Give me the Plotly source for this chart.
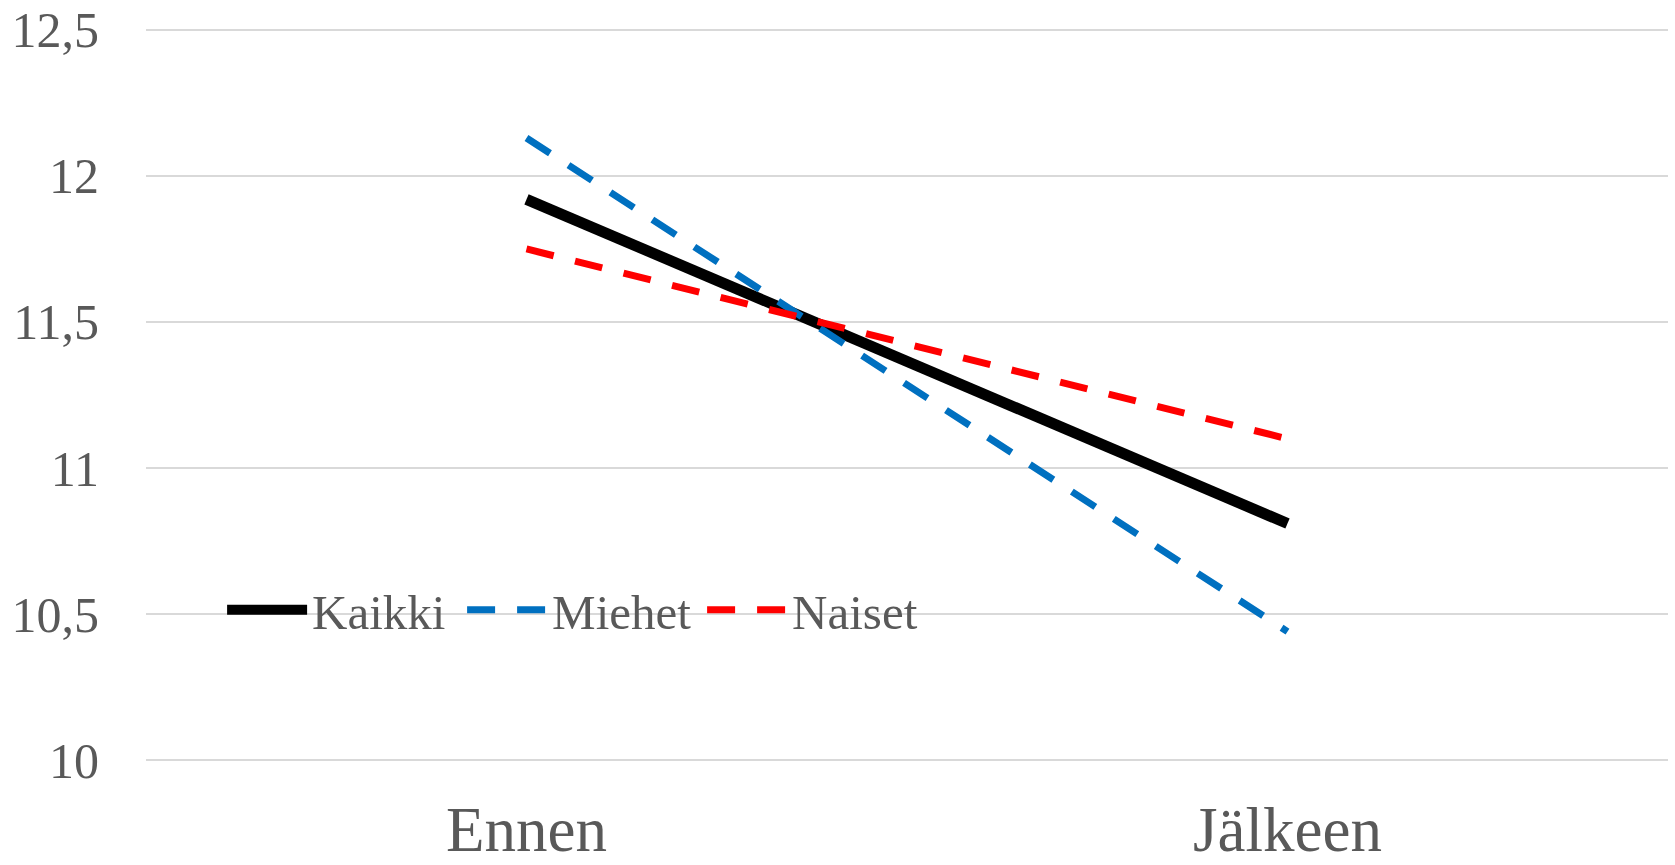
import plotly.graph_objects as go

categories = ["Ennen", "Jälkeen"]
kaikki = [11.92, 10.81]
miehet = [12.13, 10.44]
naiset = [11.75, 11.10]
y_ticks = [10, 10.5, 11, 11.5, 12, 12.5]
y_tick_labels = ["10", "10,5", "11", "11,5", "12", "12,5"]

FONT = "Liberation Serif"
GREY = "#595959"

fig = go.Figure()
fig.add_trace(go.Scatter(x=categories, y=kaikki, name="Kaikki", mode="lines",
                         line=dict(color="#000000", width=11)))
fig.add_trace(go.Scatter(x=categories, y=miehet, name="Miehet", mode="lines",
                         line=dict(color="#0070C0", width=7, dash="28px,22px")))
fig.add_trace(go.Scatter(x=categories, y=naiset, name="Naiset", mode="lines",
                         line=dict(color="#FF0000", width=7, dash="28px,22px")))

fig.update_layout(
    width=1675, height=865,
    margin=dict(l=146, r=7, t=27, b=102, autoexpand=False),
    paper_bgcolor="white", plot_bgcolor="white",
    font=dict(family=FONT, color=GREY),
    showlegend=True,
    legend=dict(orientation="h", x=0.05, y=0.208, xanchor="left", yanchor="middle",
                font=dict(family=FONT, size=49, color=GREY),
                bgcolor="rgba(0,0,0,0)", itemwidth=80, tracegroupgap=0,
                entrywidth=145, entrywidthmode="pixels"),
    xaxis=dict(type="category", range=[-0.5, 1.5], showgrid=False, zeroline=False,
               showline=False, tickfont=dict(family=FONT, size=63, color=GREY),
               ticks="", ticklabelstandoff=24, automargin=False),
    yaxis=dict(range=[9.99, 12.51], tickvals=y_ticks, ticktext=y_tick_labels,
               showgrid=True, gridcolor="#D9D9D9", gridwidth=2, zeroline=False,
               showline=False, tickfont=dict(family=FONT, size=50, color=GREY),
               ticks="", ticklabelstandoff=46, ticklabeloverflow="allow",
               automargin=False),
)

fig.write_html("out.html", config={"displayModeBar": False},
               post_script="document.body.style.margin='0';document.body.style.overflow='hidden';")
